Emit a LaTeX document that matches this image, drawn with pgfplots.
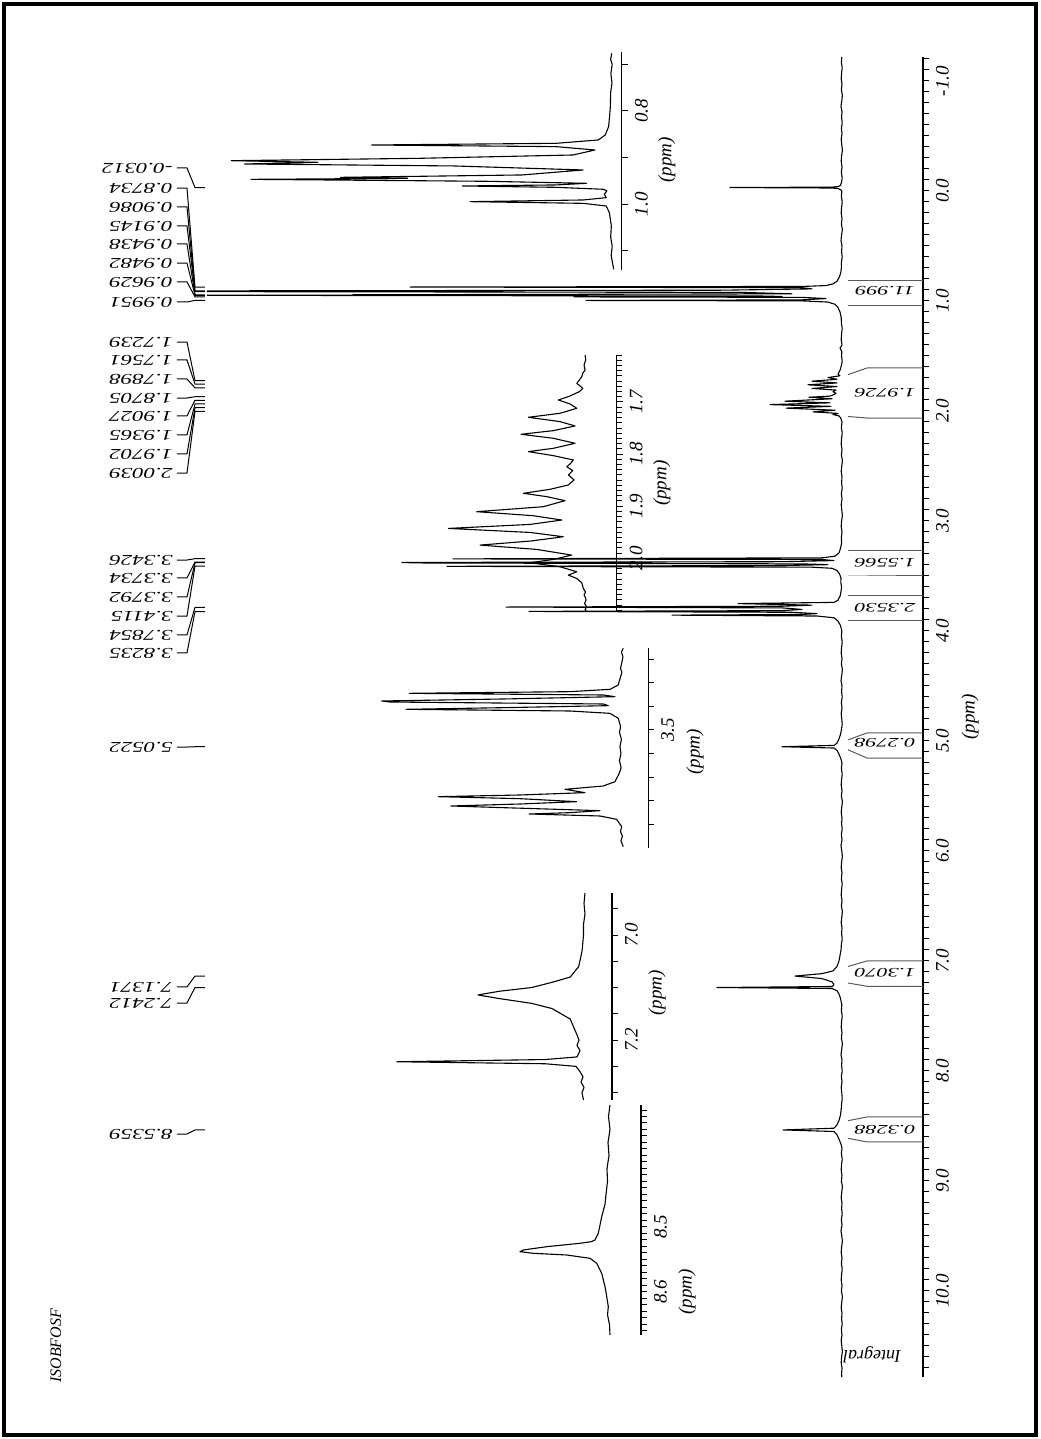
\documentclass[border=0pt]{standalone}
\usepackage{pgfplots}
\pgfplotsset{compat=1.18}
\usepackage{fontspec}
\setmainfont{Liberation Serif}
\usepackage{graphicx}
\newcommand{\tfont}{\fontsize{9.5}{10}\selectfont\itshape}
\newcommand{\pl}[1]{\scalebox{1.53}[1]{\fontsize{7.5}{8}\selectfont\itshape #1}}
\newcommand{\il}[1]{\scalebox{1.7}[1]{\fontsize{6.5}{7}\selectfont\itshape #1}}
\pgfplotsset{
  nmr/.style={scale only axis, x dir=reverse, y dir=reverse,
    axis x line=none, axis y line*=right, tick align=outside,
    major tick length=3pt, minor tick length=3pt,
    axis line style={line width=0.6pt}, every tick/.style={black,line width=0.5pt},
    yticklabel style={rotate=90, anchor=north, font=\tfont},
    clip mode=individual},
  spec/.style={black, line width=0.55pt, line join=round}
}
\begin{document}
\begin{tikzpicture}[x=1pt,y=1pt]
\useasboundingbox (0,0) rectangle (520,719.5);
\draw[line width=2pt] (2,2) rectangle (518,717.5);
\node[rotate=90, font=\fontsize{8}{9}\selectfont\itshape] at (28,46.5) {ISOBFOSF};

% ---------------- main spectrum ----------------
\begin{axis}[nmr, at={(282.5pt,361pt)}, anchor=center, width=358pt, height=660pt,
  xmin=-81, xmax=635, ymin=-1.218, ymax=10.782,
  ytick={-1,0,1,2,3,4,5,6,7,8,9,10},
  yticklabels={-1.0,0.0,1.0,2.0,3.0,4.0,5.0,6.0,7.0,8.0,9.0,10.0},
  minor ytick={-1.2,-1.1,-0.9,-0.8,-0.7,-0.6,-0.5,-0.4,-0.3,-0.2,-0.1,0.1,0.2,0.3,0.4,0.5,0.6,0.7,0.8,0.9,1.1,1.2,1.3,1.4,1.5,1.6,1.7,1.8,1.9,2.1,2.2,2.3,2.4,2.5,2.6,2.7,2.8,2.9,3.1,3.2,3.3,3.4,3.5,3.6,3.7,3.8,3.9,4.1,4.2,4.3,4.4,4.5,4.6,4.7,4.8,4.9,5.1,5.2,5.3,5.4,5.5,5.6,5.7,5.8,5.9,6.1,6.2,6.3,6.4,6.5,6.6,6.7,6.8,6.9,7.1,7.2,7.3,7.4,7.5,7.6,7.7,7.8,7.9,8.1,8.2,8.3,8.4,8.5,8.6,8.7,8.8,8.9,9.1,9.2,9.3,9.4,9.5,9.6,9.7,9.8,9.9,10.1,10.2,10.3,10.4,10.5,10.6,10.7}]
\addplot[spec] coordinates {
(0.2,-1.218) (0.6,-1.17) (-0.2,-1.12) (0.4,-1.07) (0.8,-1.02) (0,-0.97) (0.6,-0.92) (-0.4,-0.87) (0.2,-0.82) (1,-0.77) (0,-0.72) (0.4,-0.67) (-0.2,-0.62) (0.6,-0.57) (0,-0.52) (0.8,-0.47) (0.2,-0.42) (-0.4,-0.37) (0.4,-0.32) (0.8,-0.27) (0,-0.22) (0.6,-0.17) (-0.2,-0.12) (0.4,-0.08)
(1.5,-0.05) (4,-0.04) (10,-0.035) (112,-0.0312) (10,-0.027) (4,-0.022) (1.5,-0.012)
(0.2,0.0) (0.6,0.05) (-0.2,0.1) (0.4,0.15) (0.8,0.2) (0,0.25) (0.6,0.3) (-0.4,0.35) (0.4,0.4) (1,0.45) (0,0.5) (0.4,0.55) (-0.2,0.6) (0.6,0.65) (0.6,0.7) (1.2,0.74)
(2.5,0.78) (5,0.82) (9,0.845) (16,0.86) (40,0.868) (432,0.8734) (40,0.879) (30,0.89) (120,0.902) (690,0.9086) (400,0.9115) (665,0.9145) (100,0.922) (50,0.935) (489,0.9438) (400,0.946) (650,0.9482) (80,0.955) (60,0.959) (268,0.9629) (40,0.967) (16,0.978) (40,0.99) (256,0.9951) (40,0.999) (14,1.01) (7,1.03) (4,1.06) (2,1.1)
(0.8,1.15) (0.6,1.2) (-0.2,1.25) (0.4,1.3) (0.8,1.35) (0,1.4) (2,1.43) (0.2,1.46) (0.4,1.5) (-0.2,1.55) (1,1.6)
(2,1.63) (4,1.664) (2,1.68) (14,1.696) (5,1.712) (30,1.729) (5,1.745) (34,1.762) (5,1.778) (30,1.795) (6,1.81) (9,1.824) (6,1.84) (8,1.85) (12,1.865) (33,1.875) (10,1.889) (57,1.911) (12,1.926) (72,1.942) (11,1.958) (56,1.974) (7,1.993) (29,2.008) (4,2.022) (9,2.032) (3,2.045) (1.2,2.065)
(0,2.1) (0.6,2.15) (-0.2,2.2) (0.4,2.25) (0.8,2.3) (0,2.35) (0.6,2.4) (-0.4,2.45) (0.2,2.5) (0.8,2.55) (0,2.6) (0.4,2.65) (-0.2,2.7) (0.6,2.75) (0,2.8) (0.8,2.85) (0.2,2.9) (-0.4,2.95) (0.4,3.0) (0.8,3.05) (0,3.1) (0.6,3.15) (0.4,3.2) (1.5,3.25)
(3,3.29) (7,3.32) (20,3.335) (389,3.3446) (20,3.35) (8,3.36) (60,3.37) (440,3.3771) (425,3.3814) (40,3.39) (14,3.397) (60,3.405) (395,3.4124) (30,3.42) (10,3.43) (5,3.45) (2.5,3.48)
(1,3.52) (1.2,3.56) (0.4,3.6) (1,3.64) (1.8,3.68) (4,3.72) (8,3.74) (104,3.751) (30,3.765) (60,3.775) (336,3.7825) (60,3.79) (40,3.804) (60,3.815) (313,3.822) (50,3.83) (25,3.842) (40,3.85) (170,3.856) (25,3.864) (8,3.88) (4,3.91) (1.5,3.95)
(0.2,4.0) (0.6,4.05) (-0.2,4.1) (0.4,4.15) (0.8,4.2) (0,4.25) (0.6,4.3) (-0.4,4.35) (0.2,4.4) (1,4.45) (0,4.5) (0.4,4.55) (-0.2,4.6) (0.6,4.65) (0,4.7) (0.8,4.75) (0.2,4.8) (-0.2,4.85) (0.6,4.9)
(1.5,4.94) (3,4.98) (5,5.02) (8,5.04) (60,5.0522) (8,5.064) (5,5.085) (3,5.12) (1.2,5.16)
(0,5.2) (0.6,5.25) (-0.2,5.3) (0.4,5.35) (0.8,5.4) (0,5.45) (0.6,5.5) (-0.4,5.55) (0.2,5.6) (0.8,5.65) (0,5.7) (0.4,5.75) (-0.2,5.8) (0.6,5.85) (0,5.9) (1,5.95) (0.2,6.0) (-0.4,6.05) (0.4,6.1) (0.8,6.15) (0,6.2) (0.6,6.25) (-0.2,6.3) (0.4,6.35) (0.8,6.4) (0,6.45) (0.6,6.5) (-0.4,6.55) (0.2,6.6) (0.8,6.65) (0,6.7) (0.4,6.75) (-0.2,6.8) (0.6,6.85) (1,6.9)
(2,6.95) (3,7.0) (5,7.05) (9,7.09) (20,7.115) (47,7.137) (20,7.16) (10,7.19) (8,7.215) (10,7.232) (125,7.2412) (10,7.25) (5,7.27) (3,7.3) (1.5,7.34)
(0.2,7.4) (0.6,7.45) (-0.2,7.5) (0.4,7.55) (0.8,7.6) (0,7.65) (0.6,7.7) (-0.4,7.75) (0.2,7.8) (1,7.85) (0,7.9) (0.4,7.95) (-0.2,8.0) (0.6,8.05) (0,8.1) (0.8,8.15) (0.2,8.2) (-0.2,8.25) (0.4,8.3) (0.8,8.35) (1.5,8.4)
(3,8.45) (5,8.49) (8,8.52) (59,8.5359) (8,8.55) (5,8.58) (3,8.62) (1.2,8.66)
(0,8.7) (0.6,8.75) (-0.2,8.8) (0.4,8.85) (0.8,8.9) (0,8.95) (0.6,9.0) (-0.4,9.05) (0.2,9.1) (0.8,9.15) (0,9.2) (0.4,9.25) (-0.2,9.3) (0.6,9.35) (0,9.4) (1,9.45) (0.2,9.5) (-0.4,9.55) (0.4,9.6) (0.8,9.65) (0,9.7) (0.6,9.75) (-0.2,9.8) (0.4,9.85) (0.8,9.9) (0,9.95) (0.6,10.0) (-0.4,10.05) (0.2,10.1) (0.8,10.15) (0,10.2) (0.4,10.25) (-0.2,10.3) (0.6,10.35) (0,10.4) (0.8,10.45) (0.2,10.5) (-0.4,10.55) (0.4,10.6) (0.8,10.65) (0,10.7) (0.4,10.75) (0.2,10.782)};
% peak labels
\foreach \lab/\ly/\py in {-0.0312/-0.209/-0.0312, 0.8734/-0.027/0.8734, 0.9086/0.145/0.9086, 0.9145/0.318/0.9145, 0.9438/0.482/0.9438, 0.9482/0.655/0.9482, 0.9629/0.827/0.9629, 0.9951/1.009/0.9951, 1.7239/1.373/1.7239, 1.7561/1.536/1.7561, 1.7898/1.709/1.7898, 1.8705/1.882/1.8705, 1.9027/2.045/1.9027, 1.9365/2.218/1.9365, 1.9702/2.391/1.9702, 2.0039/2.564/2.0039, 3.3426/3.355/3.3426, 3.3734/3.518/3.3734, 3.3792/3.691/3.3792, 3.4115/3.864/3.4115, 3.7854/4.036/3.7854, 3.8235/4.2/3.8235, 5.0522/5.055/5.0522, 7.1371/7.236/7.1371, 7.2412/7.382/7.2412, 8.5359/8.573/8.5359}{
  \edef\tmp{\noexpand\draw[line width=0.5pt] (axis cs:665,\ly) -- (axis cs:655,\ly) -- (axis cs:647,\py) -- (axis cs:637,\py);
  \noexpand\node[rotate=180, anchor=west, inner sep=1pt] at (axis cs:667,\ly) {\noexpand\pl{\lab}};}
  \tmp
}
% integrals: value / bound a / bound b / box c / box d / text
\foreach \val/\ya/\yb/\yc/\yd/\yt in {11.999/0.818/1.045/0.818/1.045/0.91, 1.9726/1.67/2.05/1.609/2.064/1.836, 1.5566/3.264/3.5/3.264/3.5/3.382, 2.3530/3.673/3.909/3.673/3.909/3.79, 0.2798/4.99/5.08/4.927/5.155/5.018, 1.3070/7.05/7.2/7.0/7.23/7.11, 0.3288/8.452/8.612/8.418/8.645/8.536}{
  \edef\tmp{\noexpand\draw[line width=0.5pt, gray!70!black] (axis cs:-6,\ya) -- (axis cs:-25,\yc) -- (axis cs:-81,\yc);
  \noexpand\draw[line width=0.5pt, gray!70!black] (axis cs:-6,\yb) -- (axis cs:-25,\yd) -- (axis cs:-81,\yd);
  \noexpand\node[rotate=180] at (axis cs:-43,\yt) {\noexpand\il{\val}};}
  \tmp
}
\node[rotate=180, font=\fontsize{9}{10}\selectfont\itshape] at (axis cs:-30,10.58) {Integral};
\node[rotate=90, font=\tfont] at (axis cs:-128,4.78) {(ppm)};
\end{axis}

% ---------------- inset A ----------------
\begin{axis}[nmr, at={(212pt,639pt)}, anchor=center, width=194pt, height=109pt,
  xmin=-10, xmax=378, ymin=0.6736, ymax=1.1407,
  ytick={0.8,1.0}, yticklabels={0.8,1.0}, minor ytick={0.7,0.9,1.1}]
\addplot[spec] coordinates {
(0,0.6764) (1,0.69) (-0.5,0.70) (0.8,0.72) (-0.3,0.74) (1,0.76) (1.3,0.7908) (2,0.81) (3,0.8336) (6.3,0.8514) (13,0.8621) (54.7,0.8693) (235.3,0.8729) (54.7,0.8764) (16.3,0.8836) (38,0.8943) (188,0.9014) (373,0.9065) (288,0.9100) (359.7,0.9136) (154.7,0.9178) (28,0.9264) (88,0.9371) (266,0.9422) (200,0.9443) (353.7,0.9465) (121,0.9507) (24.7,0.9550) (54.7,0.9585) (146.3,0.9607) (54.7,0.9636) (8,0.9678) (4.7,0.9714) (7.3,0.9786) (5.3,0.9857) (28,0.9907) (138.7,0.9943) (28,0.9979) (5.3,1.0036) (2.3,1.0178) (0.3,1.0464) (1,1.07) (-0.5,1.09) (0.5,1.11) (-2,1.1393)};
\node[rotate=90, font=\tfont] at (axis cs:-54,0.905) {(ppm)};
\end{axis}

% ---------------- inset B ----------------
\begin{axis}[nmr, at={(264.2pt,477.75pt)}, anchor=center, width=88.35pt, height=128.5pt,
  xmin=-31.7, xmax=145, ymin=1.6098, ymax=2.1031,
  ytick={1.7,1.8,1.9,2.0}, yticklabels={1.7,1.8,1.9,2.0},
  minor ytick={1.61,1.62,...,2.101}, minor tick length=2.5pt]
\addplot[spec] coordinates {
(0,1.6098) (-0.7,1.6194) (1,1.6290) (0,1.6386) (2.3,1.6450) (3.3,1.6514) (5.7,1.6578) (8.3,1.6642) (5,1.6693) (2.3,1.6738) (5.7,1.6802) (15,1.6885) (26.7,1.6962) (15,1.7038) (8.3,1.7121) (25,1.7217) (56.7,1.7294) (25,1.7377) (10,1.7460) (31.7,1.7550) (64,1.7620) (31.7,1.7697) (10,1.7793) (31.7,1.7889) (56.7,1.7953) (31.7,1.8030) (11.7,1.8113) (15,1.8190) (18.3,1.8241) (12.3,1.8318) (16.7,1.8401) (11,1.8497) (16.7,1.8593) (35,1.8676) (61.7,1.8753) (38.3,1.8817) (20,1.8894) (41.7,1.9010) (108.3,1.9106) (51.7,1.9183) (23.3,1.9266) (55,1.9350) (136.7,1.9427) (55,1.9504) (21.7,1.9587) (55,1.9670) (105,1.9747) (48.3,1.9830) (13.3,1.9939) (31.7,2.0022) (55,2.0086) (25,2.0163) (8.3,2.0259) (16.7,2.0323) (8.3,2.0387) (3.3,2.0470) (1.7,2.0579) (-0.5,2.065) (1,2.07) (0,2.0739) (-1,2.08) (0.5,2.087) (-1.7,2.0931) (0,2.098) (-1.7,2.1027)};
\node[rotate=90, font=\tfont] at (axis cs:-76.7,1.856) {(ppm)};
\end{axis}

% ---------------- inset C ----------------
\begin{axis}[nmr, at={(255.8pt,345.5pt)}, anchor=center, width=136.65pt, height=100pt,
  xmin=-26.3, xmax=247, ymin=3.1525, ymax=4.0,
  ytick={3.5}, yticklabels={3.5}, minor ytick={3.2,3.3,3.4,3.6,3.7,3.8,3.9}]
\addplot[spec] coordinates {
(-1.3,3.1538) (0.5,3.17) (-1,3.19) (0.3,3.2175) (1.5,3.24) (0,3.255) (1.3,3.274) (2.5,3.29) (3.7,3.3093) (12,3.3277) (52,3.3376) (212.7,3.3446) (18.7,3.3517) (7,3.3588) (118.7,3.3686) (240.3,3.3771) (232,3.3814) (18.7,3.3898) (13.7,3.3969) (118.7,3.4054) (216,3.4124) (52,3.4195) (12,3.4294) (3.7,3.4506) (1.3,3.4859) (2.5,3.51) (0.5,3.54) (2,3.57) (1,3.6) (2.5,3.63) (0.8,3.66) (2.7,3.6836) (7,3.719) (18.7,3.7373) (57,3.7514) (37,3.7655) (102,3.7754) (183.7,3.7825) (102,3.7910) (45.3,3.8037) (102,3.8136) (171,3.822) (118.7,3.8291) (22,3.8418) (52,3.8503) (92.7,3.8559) (22,3.8644) (5.3,3.8785) (0.3,3.9096) (1.5,3.93) (-0.5,3.95) (1,3.97) (-1.3,3.9944)};
\node[rotate=90, font=\tfont] at (axis cs:-73,3.592) {(ppm)};
\end{axis}

% ---------------- inset D ----------------
\begin{axis}[nmr, at={(250.5pt,221.25pt)}, anchor=center, width=111pt, height=103.5pt,
  xmin=-27, xmax=195, ymin=6.92, ymax=7.314,
  ytick={7.0,7.2}, yticklabels={7.0,7.2}, minor ytick={6.95,7.05,7.1,7.15,7.25,7.3}]
\addplot[spec] coordinates {
(0,6.92) (1,6.94) (0,6.96) (1.5,6.98) (1.5,7.0) (2.9,7.03) (6.3,7.06) (14.8,7.08) (32.9,7.09) (53.5,7.10) (85.6,7.107) (107,7.114) (85.6,7.121) (53.5,7.13) (32.9,7.14) (14.8,7.16) (8,7.19) (6,7.2) (8,7.21) (5,7.22) (8,7.232) (40,7.237) (188,7.2412) (40,7.245) (9,7.25) (5,7.26) (2,7.27) (4,7.28) (1,7.29) (3,7.3) (1.5,7.314)};
\node[rotate=90, font=\tfont] at (axis cs:-72,7.11) {(ppm)};
\end{axis}

% ---------------- inset E ----------------
\begin{axis}[nmr, at={(287.75pt,109.5pt)}, anchor=center, width=65.5pt, height=115pt,
  xmin=-31, xmax=100, ymin=8.3123, ymax=8.6662,
  ytick={8.5,8.6}, yticklabels={8.5,8.6}, minor ytick={8.32,8.33,...,8.665}]
\addplot[spec] coordinates {
(0,8.3123) (1.5,8.33) (0,8.35) (2,8.37) (1,8.39) (3,8.41) (2.5,8.43) (4,8.45) (5,8.465) (8.3,8.4842) (10,8.497) (11.7,8.5097) (15,8.52) (18.3,8.5225) (30,8.5251) (63.3,8.5303) (86.7,8.5354) (90,8.538) (76.7,8.5405) (43.3,8.5431) (20,8.5482) (13.3,8.5559) (8.3,8.5712) (5,8.5918) (3.5,8.605) (1.7,8.6226) (2.5,8.635) (0.5,8.65) (0,8.6662)};
\node[rotate=90, font=\tfont] at (axis cs:-77,8.6) {(ppm)};
\end{axis}
\end{tikzpicture}
\end{document}
